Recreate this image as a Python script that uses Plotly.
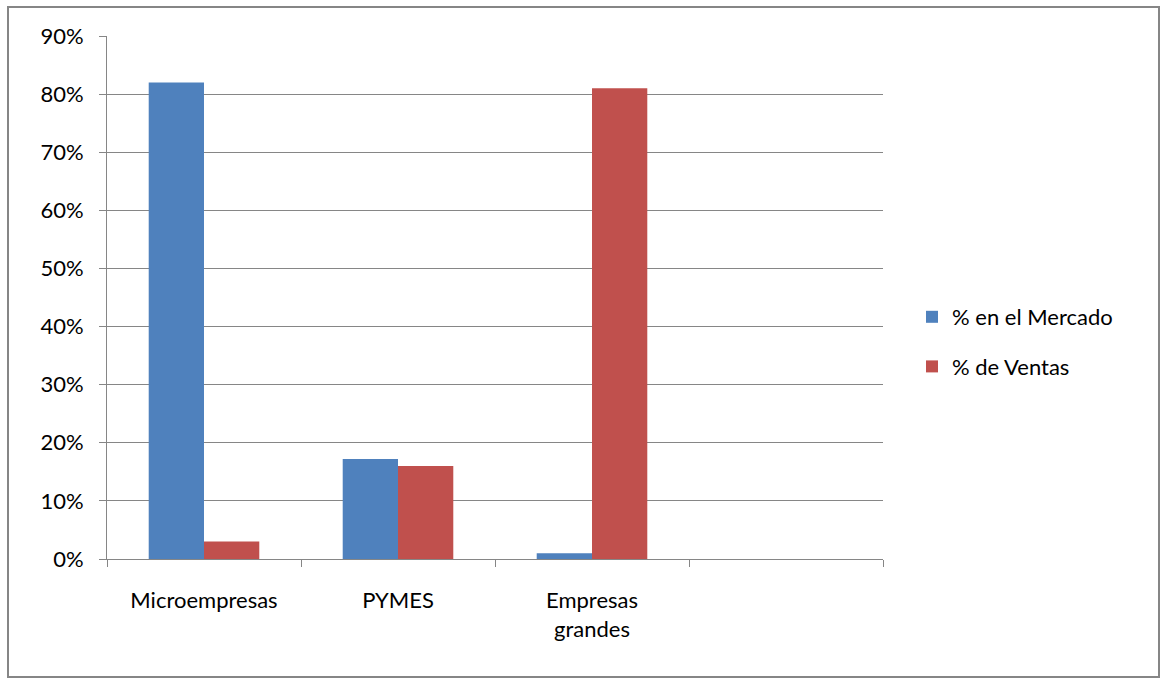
import plotly.graph_objects as go

categories = ["Microempresas", "PYMES", "Empresas<br>grandes", " "]
mercado = [0.82, 0.172, 0.01, None]
ventas = [0.03, 0.16, 0.81, None]
y_ticks = [0, 0.1, 0.2, 0.3, 0.4, 0.5, 0.6, 0.7, 0.8, 0.9]
y_labels = ["0%", "10%", "20%", "30%", "40%", "50%", "60%", "70%", "80%", "90%"]

FONT = "Lato, Calibri, Carlito, sans-serif"
FS = 22

fig = go.Figure()
fig.add_trace(go.Bar(x=categories, y=mercado, name="% en el Mercado",
                     marker=dict(color="#4F81BD", line=dict(width=0)),
                     legendgroup="a"))
fig.add_trace(go.Bar(x=categories, y=ventas, name="% de Ventas",
                     marker=dict(color="#C0504D", line=dict(width=0)),
                     legendgroup="b"))

W, H = 1161, 679
L, R, T, B = 107, 883, 36, 559
fig.update_layout(
    width=W, height=H,
    margin=dict(l=L, r=W - R, t=T, b=H - B),
    paper_bgcolor="white", plot_bgcolor="white",
    barmode="group", bargap=0.43, bargroupgap=0,
    font=dict(family=FONT, size=FS, color="#000000"),
    showlegend=True,
    legend=dict(x=(912 - L) / (R - L), y=(B - 342) / (B - T), xanchor="left", yanchor="middle",
                traceorder="grouped", tracegroupgap=18,
                font=dict(family=FONT, size=FS), itemwidth=30),
    xaxis=dict(type="category", tickson="boundaries", ticks="outside",
               ticklen=7, tickcolor="#868686", showline=True, linecolor="#868686",
               linewidth=1, showgrid=False, range=[-0.5, 3.5],
               ticklabelstandoff=22,
               tickfont=dict(family=FONT, size=FS)),
    yaxis=dict(range=[0, 0.9], tickvals=y_ticks, ticktext=y_labels,
               ticks="outside", ticklen=7, tickcolor="#868686",
               showline=True, linecolor="#868686", linewidth=1,
               showgrid=True, gridcolor="#868686", gridwidth=1,
               zeroline=False, ticklabelstandoff=11,
               tickfont=dict(family=FONT, size=FS)),
)
fig.add_shape(type="rect", xref="paper", yref="paper",
              x0=(8 - L) / (R - L), x1=(1159 - L) / (R - L),
              y0=(B - 677) / (B - T), y1=(B - 7) / (B - T),
              line=dict(color="#868686", width=2), fillcolor="rgba(0,0,0,0)",
              layer="below")

fig.write_html("out.html")
